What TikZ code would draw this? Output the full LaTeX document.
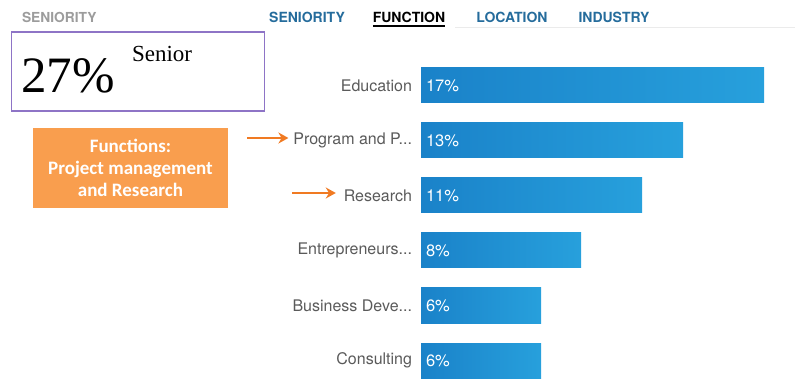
\documentclass[tikz,border=0pt]{standalone}
\usepackage{fontspec}
\setmainfont{Liberation Serif}
\setsansfont{TeX Gyre Heros}
\newfontfamily\calloutfont{Carlito}
\usetikzlibrary{calc, positioning, arrows.meta}
\definecolor{tabblue}{HTML}{256C9C}
\definecolor{labelgray}{HTML}{5A5A5A}
\definecolor{headgray}{HTML}{9C9C9C}
\definecolor{boxpurple}{HTML}{8E74C6}
\definecolor{calloutorange}{HTML}{F99E4E}
\definecolor{arroworange}{HTML}{F07A22}
\definecolor{barleft}{HTML}{1A82C9}
\definecolor{barright}{HTML}{27A0DC}

\begin{document}
\begin{tikzpicture}[x=1pt, y=-1pt]
\tikzset{every node/.style={inner sep=0pt, outer sep=0pt},
  tab/.style={font=\sffamily\bfseries\fontsize{14}{16}\selectfont, text=tabblue},
  bar/.style={anchor=west, minimum height=35pt, left color=barleft, right color=barright, draw=none},
  pct/.style={font=\sffamily\fontsize{16.5}{18}\selectfont, text=white},
  lbl/.style={font=\sffamily\fontsize{16}{18}\selectfont, text=labelgray},
  pointer/.style={arroworange, line width=2.6pt, -{Stealth[length=10pt, width=11pt]}}}
\useasboundingbox (0,0) rectangle (795,379);

% header and tabs
\node [font=\sffamily\bfseries\fontsize{13.8}{16}\selectfont, text=headgray, anchor=west] (head) at (22,17) {SENIORITY};
\node [tab] (tSen) at (307,17) {SENIORITY};
\node [tab, text=black] (tFun) at (409,17) {FUNCTION};
\node [tab] (tLoc) at (512,17) {LOCATION};
\node [tab] (tInd) at (614,17) {INDUSTRY};
\draw [black!8, line width=1pt] (455,28) -- (795,28);
\draw [black, line width=2.2pt] ($(tFun.south west)+(0,4)$) -- ($(tFun.south east)+(0,4)$);

% senior box
\node [draw=boxpurple, line width=1.5pt, minimum width=253pt, minimum height=79pt, anchor=north west] (sbox) at (11.5,32) {};
\node [font=\fontsize{51}{53}\selectfont, anchor=base west] (pSen) at (21,93) {27\%};
\node [font=\fontsize{23}{25}\selectfont, anchor=base west] (lSen) at (132,62) {Senior};

% callout
\node [fill=calloutorange, minimum width=195pt, minimum height=80pt, text=white, align=center,
  font=\calloutfont\bfseries\fontsize{19}{22}\selectfont] (callout) at (130.5,168) {Functions:\\Project management\\and Research};

% bars
\node [bar, minimum width=343pt] (bEdu) at (421,85.5) {};
\node [bar, minimum width=262pt] (bPro) at (421,140.5) {};
\node [bar, minimum width=221pt] (bRes) at (421,195.5) {};
\node [bar, minimum width=160pt] (bEnt) at (421,250.5) {};
\node [bar, minimum width=120pt] (bBus) at (421,305.5) {};
\node [bar, minimum width=120pt] (bCon) at (421,360.5) {};

\node [pct, right=5pt of bEdu.west] (pEdu) {17\%};
\node [pct, right=5pt of bPro.west] (pPro) {13\%};
\node [pct, right=5pt of bRes.west] (pRes) {11\%};
\node [pct, right=5pt of bEnt.west] (pEnt) {8\%};
\node [pct, right=5pt of bBus.west] (pBus) {6\%};
\node [pct, right=5pt of bCon.west] (pCon) {6\%};

\node [lbl, left=9pt of bEdu.west] (lEdu) {Education};
\node [lbl, left=9pt of bPro.west] (lPro) {Program and P...};
\node [lbl, left=9pt of bRes.west] (lRes) {Research};
\node [lbl, left=9pt of bEnt.west] (lEnt) {Entrepreneurs...};
\node [lbl, left=9pt of bBus.west] (lBus) {Business Deve...};
\node [lbl, left=9pt of bCon.west] (lCon) {Consulting};

% pointers
\coordinate (aPro) at (247,138);
\coordinate (aRes) at (292,193);
\draw [pointer, shorten >=5pt] (aPro) -- (aPro -| lPro.west);
\draw [pointer, shorten >=8pt] (aRes) -- (aRes -| lRes.west);

\end{tikzpicture}
\end{document}
